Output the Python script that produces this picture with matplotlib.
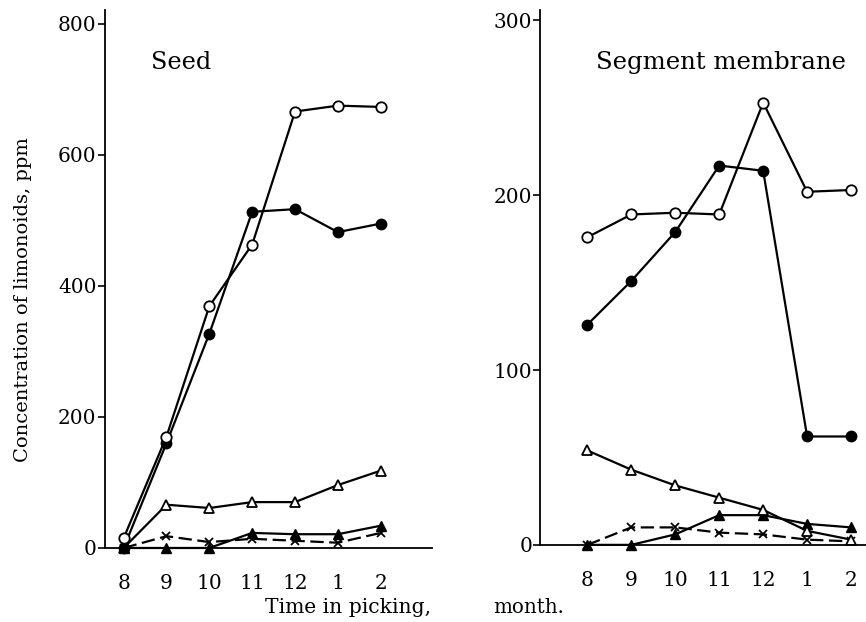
import matplotlib
matplotlib.use("Agg")
import matplotlib.pyplot as plt

# picking months (Aug .. Feb)
months = ['8', '9', '10', '11', '12', '1', '2']

# Seed, ppm
seed_open_circle = [15, 170, 369, 463, 666, 675, 673]
seed_filled_circle = [0, 160, 327, 513, 517, 482, 495]
seed_open_tri = [0, 66, 61, 70, 70, 96, 118]
seed_filled_tri = [0, 0, 0, 23, 21, 21, 34]
seed_x = [0, 18, 9, 14, 11, 8, 23]

# Segment membrane, ppm
memb_open_circle = [176, 189, 190, 189, 253, 202, 203]
memb_filled_circle = [126, 151, 179, 217, 214, 62, 62]
memb_open_tri = [54, 43, 34, 27, 20, 8, 3]
memb_filled_tri = [0, 0, 6, 17, 17, 12, 10]
memb_x = [0, 10, 10, 7, 6, 3, 2]

plt.rcParams['font.family'] = ['DejaVu Serif']

fig = plt.figure(figsize=(8.66, 6.22), dpi=100)
ax1 = fig.add_axes([0.121, 0.119, 0.378, 0.865])
ax2 = fig.add_axes([0.624, 0.124, 0.376, 0.860])

xs = list(range(len(months)))


def draw(ax, oc, fc, ot, ft, xx):
    kw = dict(color='black', lw=1.6, clip_on=False)
    ax.plot(xs, xx, marker='x', ms=6, mew=1.3, dashes=(6, 2.5), **kw)
    ax.plot(xs, ft, marker='^', ms=7, mfc='black', **kw)
    ax.plot(xs, ot, marker='^', ms=7.5, mfc='white', mew=1.3, **kw)
    ax.plot(xs, fc, marker='o', ms=7.5, mfc='black', **kw)
    ax.plot(xs, oc, marker='o', ms=7.5, mfc='white', mew=1.3, **kw)
    for s in ['top', 'right']:
        ax.spines[s].set_visible(False)
    ax.spines['left'].set_linewidth(1.3)
    ax.spines['bottom'].set_linewidth(1.3)
    ax.set_xticks(xs)
    ax.set_xticklabels(months, fontsize=14.5)
    ax.tick_params(axis='x', length=0, pad=19)
    ax.tick_params(axis='y', labelsize=14.5, length=5, width=1.2, direction='out', pad=1)


draw(ax1, seed_open_circle, seed_filled_circle, seed_open_tri, seed_filled_tri, seed_x)
ax1.set_xlim(-0.44, 7.2)
ax1.set_ylim(0, 821)
ax1.set_yticks([0, 200, 400, 600, 800])
ax1.text(0.14, 0.89, 'Seed', transform=ax1.transAxes, fontsize=17.3)
ax1.set_ylabel('Concentration of limonoids, ppm', fontsize=14)
ax1.yaxis.set_label_coords(-0.223, 0.461)

draw(ax2, memb_open_circle, memb_filled_circle, memb_open_tri, memb_filled_tri, memb_x)
ax2.set_xlim(-1.07, 6.34)
ax2.set_ylim(0, 306)
ax2.set_yticks([0, 100, 200, 300])
ax2.text(0.17, 0.89, 'Segment membrane', transform=ax2.transAxes, fontsize=17.6)

fig.text(0.306, 0.015, 'Time in picking,', fontsize=14.6)
fig.text(0.570, 0.015, 'month.', fontsize=14.3)

fig.savefig('out.png', dpi=100)
